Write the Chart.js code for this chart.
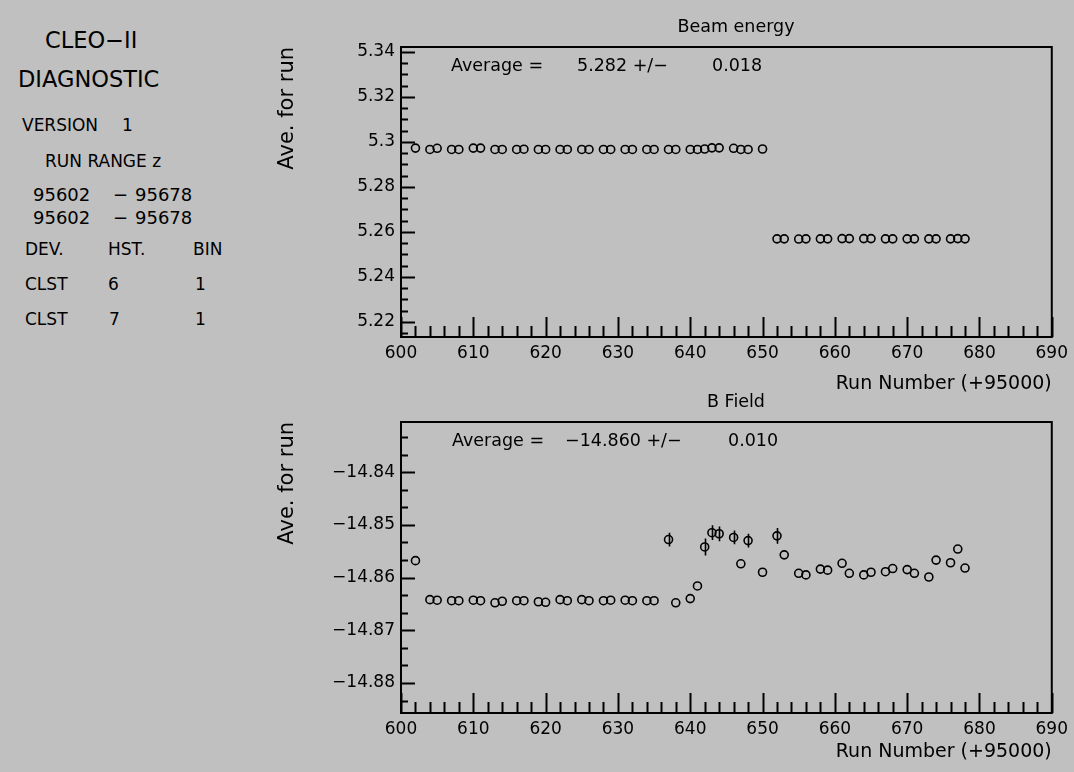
<!DOCTYPE html>
<html>
<head>
<meta charset="utf-8">
<script src="https://cdn.jsdelivr.net/npm/chart.js@4.4.1/dist/chart.umd.min.js"></script>
<style>
  html, body { margin: 0; padding: 0; background: #c0c0c0; }
  #page { position: relative; width: 1074px; height: 772px; overflow: hidden;
          font-family: "DejaVu Sans", sans-serif; color: #000; }
  .t { position: absolute; white-space: pre; font-size: 17px; line-height: 1; }
  .num { font-size: 18px; }
  .big { font-size: 22.5px; }
  canvas { position: absolute; left: 0; }
</style>
</head>
<body>
<div id="page">
  <div class="t big" style="left:45px;top:29px">CLEO−II</div>
  <div class="t big" style="left:18px;top:68px">DIAGNOSTIC</div>
  <div class="t" style="left:22px;top:117px">VERSION</div>
  <div class="t" style="left:122px;top:117px">1</div>
  <div class="t" style="left:45px;top:153px">RUN RANGE z</div>
  <div class="t num" style="left:33px;top:186px">95602</div>
  <div class="t num" style="left:113px;top:186px">−</div>
  <div class="t num" style="left:135px;top:186px">95678</div>
  <div class="t num" style="left:33px;top:209px">95602</div>
  <div class="t num" style="left:113px;top:209px">−</div>
  <div class="t num" style="left:135px;top:209px">95678</div>
  <div class="t" style="left:25px;top:241px">DEV.</div>
  <div class="t" style="left:108px;top:241px">HST.</div>
  <div class="t" style="left:193px;top:241px">BIN</div>
  <div class="t" style="left:25px;top:276px">CLST</div>
  <div class="t" style="left:108px;top:276px">6</div>
  <div class="t" style="left:195px;top:276px">1</div>
  <div class="t" style="left:25px;top:311px">CLST</div>
  <div class="t" style="left:109px;top:311px">7</div>
  <div class="t" style="left:195px;top:311px">1</div>

  <canvas id="beam" width="1074" height="395" style="top:0"></canvas>
  <canvas id="field" width="1074" height="387" style="top:385px"></canvas>
</div>

<script>
// --- data ---
const runs = [602, 604, 605, 607, 608, 610, 611, 613, 614, 616, 617, 619, 620, 622, 623, 625, 626,
  628, 629, 631, 632, 634, 635, 637, 638, 640, 641, 642, 643, 644, 646, 647, 648, 650,
  652, 653, 655, 656, 658, 659, 661, 662, 664, 665, 667, 668, 670, 671, 673, 674, 676, 677, 678];

const beamValues = [5.2972, 5.2966, 5.2971, 5.2966, 5.2966, 5.2972, 5.2972, 5.2966, 5.2966,
  5.2966, 5.2967, 5.2966, 5.2966, 5.2966, 5.2966, 5.2966, 5.2966, 5.2966, 5.2966, 5.2966,
  5.2966, 5.2966, 5.2966, 5.2966, 5.2966, 5.2966, 5.2966, 5.2968, 5.2973, 5.2973, 5.2971,
  5.2966, 5.2966, 5.2968,
  5.2569, 5.2569, 5.2568, 5.2569, 5.2569, 5.2569, 5.2570, 5.2570, 5.2570, 5.2570, 5.2569,
  5.2569, 5.2569, 5.2569, 5.2569, 5.2569, 5.2569, 5.2570, 5.2569];

const fieldValues = [-14.8568, -14.8642, -14.8643, -14.8644, -14.8644, -14.8643, -14.8644,
  -14.8648, -14.8645, -14.8644, -14.8644, -14.8646, -14.8647, -14.8642, -14.8644, -14.8642,
  -14.8644, -14.8644, -14.8643, -14.8643, -14.8644, -14.8644, -14.8644,
  -14.8528, -14.8648, -14.8640, -14.8616, -14.8542, -14.8515, -14.8517, -14.8524, -14.8574,
  -14.8530, -14.8590,
  -14.8521, -14.8557, -14.8592, -14.8595, -14.8584, -14.8586, -14.8573, -14.8592, -14.8595,
  -14.8590, -14.8589, -14.8583, -14.8585, -14.8592, -14.8599, -14.8567, -14.8572, -14.8546,
  -14.8582];

const fieldErrors = [0, 0, 0, 0, 0, 0, 0, 0, 0, 0, 0, 0, 0, 0, 0, 0, 0, 0, 0, 0, 0, 0, 0,
  0.0013, 0, 0, 0, 0.0016, 0.0014, 0.0014, 0.0013, 0, 0.0013, 0,
  0.0015, 0, 0, 0, 0, 0, 0, 0, 0, 0, 0, 0, 0, 0, 0, 0, 0, 0, 0];

const xTicks = [600, 610, 620, 630, 640, 650, 660, 670, 680, 690];
const beamTicks = [5.22, 5.24, 5.26, 5.28, 5.3, 5.32, 5.34];
const fieldTicks = [-14.88, -14.87, -14.86, -14.85, -14.84];

const FONT = '"DejaVu Sans", sans-serif';
Chart.defaults.color = '#000';
Chart.defaults.font.family = FONT;

/**
 * frame, inward ticks, error bars, title and average line
 */
function framePlugin(cfg) {
  return {
    id: 'frame',
    afterDatasetsDraw(chart) {
      const { ctx, chartArea: a, scales: { x, y } } = chart;
      ctx.save();

      // error bars
      if (cfg.errors) {
        ctx.strokeStyle = '#000';
        ctx.lineWidth = 1.6;
        ctx.beginPath();
        cfg.values.forEach((v, i) => {
          const e = cfg.errors[i];
          if (!e) return;
          const px = Math.round(x.getPixelForValue(runs[i])) + 0.5;
          ctx.moveTo(px, y.getPixelForValue(v + e));
          ctx.lineTo(px, y.getPixelForValue(v - e));
        });
        ctx.stroke();
      }

      ctx.strokeStyle = '#000';
      ctx.lineWidth = 2;
      ctx.beginPath();
      // x ticks, minor every 2 runs
      for (let k = 0; ; k++) {
        const v = xTicks[0] + k * 2;
        if (v > x.max + 1e-9) break;
        const px = Math.round(x.getPixelForValue(v)) + 0.5;
        const len = v % 10 === 0 ? 20 : 11;
        ctx.moveTo(px, a.bottom);
        ctx.lineTo(px, a.bottom - len);
      }
      // y ticks
      const base = cfg.yTicks[0];
      for (let k = -10; k < 60; k++) {
        const v = base + k * cfg.yMinor;
        if (v < y.min || v > y.max) continue;
        const major = cfg.yTicks.some(t => Math.abs(t - v) < cfg.yMinor / 10);
        const py = Math.round(y.getPixelForValue(v)) + 0.5;
        ctx.moveTo(a.left, py);
        ctx.lineTo(a.left + (major ? 14 : 7), py);
      }
      ctx.stroke();
      ctx.strokeRect(a.left, a.top, a.width, a.height);

      // texts
      ctx.fillStyle = '#000';
      ctx.textBaseline = 'middle';
      ctx.font = '17.5px ' + FONT;
      ctx.textAlign = 'center';
      ctx.fillText(cfg.title, 736, a.top - 20);
      ctx.textAlign = 'left';
      cfg.average.forEach(([dx, txt]) => ctx.fillText(txt, a.left + dx, a.top + 19));
      ctx.restore();
    }
  };
}

function makeChart(id, values, cfg) {
  const ctx = document.getElementById(id).getContext('2d');
  return new Chart(ctx, {
    type: 'scatter',
    data: {
      datasets: [{
        data: runs.map((r, i) => ({ x: r, y: values[i] })),
        pointStyle: 'circle',
        pointRadius: 4,
        borderWidth: 1.6,
        borderColor: '#000',
        backgroundColor: 'rgba(0,0,0,0)',
        showLine: false
      }]
    },
    options: {
      responsive: false,
      animation: false,
      layout: { padding: cfg.padding },
      plugins: { legend: { display: false }, tooltip: { enabled: false } },
      scales: {
        x: {
          type: 'linear',
          min: 600,
          max: 690,
          grid: { display: false, drawTicks: false },
          border: { display: false },
          afterBuildTicks: s => { s.ticks = xTicks.map(v => ({ value: v })); },
          afterFit: s => { s.height = cfg.xHeight; },
          ticks: { autoSkip: false, maxRotation: 0, padding: 6, font: { size: 17 } },
          title: {
            display: true,
            text: 'Run Number (+95000)',
            align: 'end',
            font: { size: 19 },
            padding: { top: 0, bottom: cfg.xTitlePad }
          }
        },
        y: {
          type: 'linear',
          min: cfg.yMin,
          max: cfg.yMax,
          grid: { display: false, drawTicks: false },
          border: { display: false },
          afterBuildTicks: s => { s.ticks = cfg.yTicks.map(v => ({ value: v })); },
          afterFit: s => { s.width = 126; },
          ticks: {
            padding: 6,
            font: { size: 17 },
            callback: v => String(+v.toFixed(3)).replace('-', '\u2212')
          },
          title: {
            display: true,
            text: 'Ave. for run',
            align: 'end',
            font: { size: 21 },
            padding: { top: 0, bottom: 0 }
          }
        }
      }
    },
    plugins: [framePlugin(Object.assign({ values }, cfg))]
  });
}

makeChart('beam', beamValues, {
  padding: { left: 275, top: 47, right: 20, bottom: 0 },
  xHeight: 58,
  xTitlePad: 0,
  yMin: 5.2133,
  yMax: 5.3421,
  yTicks: beamTicks,
  yMinor: 0.005,
  title: 'Beam energy',
  average: [[50, 'Average ='], [176, '5.282 +/\u2212'], [311, '0.018']]
});

makeChart('field', fieldValues, {
  padding: { left: 275, top: 37, right: 20, bottom: 0 },
  xHeight: 59,
  xTitlePad: 9,
  yMin: -14.8857,
  yMax: -14.8305,
  yTicks: fieldTicks,
  yMinor: 0.01 / 3,
  errors: fieldErrors,
  title: 'B Field',
  average: [[51, 'Average ='], [164, '\u221214.860 +/\u2212'], [327, '0.010']]
});
</script>
</body>
</html>
